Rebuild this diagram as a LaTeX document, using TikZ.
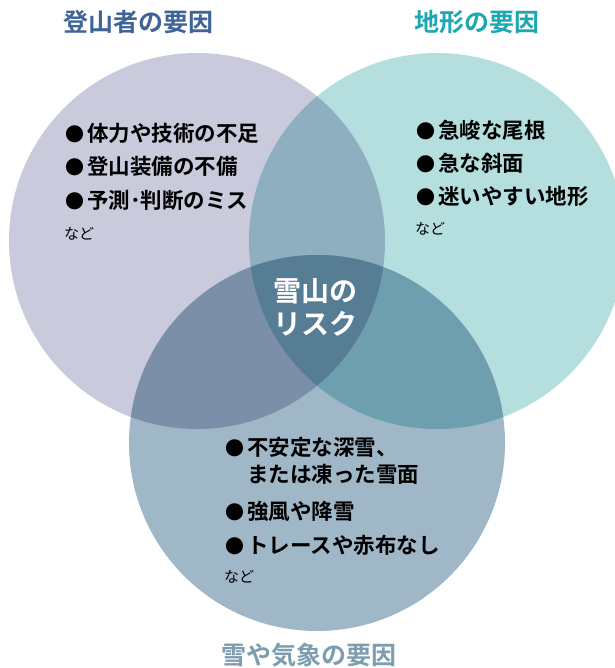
\documentclass[tikz,border=0pt]{standalone}
\usepackage{fontspec}
\setmainfont{Noto Sans CJK JP}[BoldFont={* Bold}]
\definecolor{cL}{HTML}{C9CADB}
\definecolor{cR}{HTML}{B5DEDF}
\definecolor{cB}{HTML}{A0B7C7}
\definecolor{cLR}{HTML}{8EAFBF}
\definecolor{cLB}{HTML}{7C8FA8}
\definecolor{cRB}{HTML}{6E9FAE}
\definecolor{cLRB}{HTML}{577D95}
\definecolor{tL}{HTML}{3F6596}
\definecolor{tR}{HTML}{1BA8B0}
\definecolor{tB}{HTML}{7D9DB0}
\newcommand{\bul}{{\fontsize{19}{21}\selectfont ●}\hspace{3pt}}
\tikzset{
  title/.style={font=\fontsize{25}{29}\selectfont\bfseries, inner sep=0pt},
  item/.style={font=\fontsize{21.5}{25}\selectfont\bfseries, inner sep=0pt, anchor=west, text=black},
  etc/.style={font=\fontsize{15}{18}\selectfont, inner sep=0pt, anchor=west, text=black},
  center/.style={font=\fontsize{28}{33}\selectfont\bfseries, inner sep=0pt, text=white, align=center}
}
\begin{document}
\begin{tikzpicture}[x=1pt,y=-1pt]
\useasboundingbox (0,0) rectangle (614,668);
\def\cirL{(197,241) circle[radius=188pt]}
\def\cirR{(437,241) circle[radius=188pt]}
\def\cirB{(317,443) circle[radius=188pt]}
\fill[cL] \cirL;
\fill[cR] \cirR;
\fill[cB] \cirB;
\begin{scope}\clip \cirL; \fill[cLR] \cirR; \end{scope}
\begin{scope}\clip \cirL; \fill[cLB] \cirB; \end{scope}
\begin{scope}\clip \cirR; \fill[cRB] \cirB; \end{scope}
\begin{scope}\clip \cirL; \clip \cirR; \fill[cLRB] \cirB; \end{scope}

\node[title, text=tL] (tl) at (138,22) {登山者の要因};
\node[title, text=tR] (tr) at (477,22) {地形の要因};
\node[title, text=tB] (tb) at (309,655) {雪や気象の要因};

\node[center] (ctr) at (315,307) {雪山の\\リスク};

\node[item] (l1) at (65,133) {\bul 体力や技術の不足};
\node[item] (l2) at (65,166) {\bul 登山装備の不備};
\node[item] (l3) at (65,200) {\bul 予測･判断のミス};
\node[etc] (l4) at (64,234) {など};

\node[item] (r1) at (416,130) {\bul 急峻な尾根};
\node[item] (r2) at (416,163) {\bul 急な斜面};
\node[item] (r3) at (416,196) {\bul 迷いやすい地形};
\node[etc] (r4) at (415,229) {など};

\node[item] (b1) at (225,447) {\bul 不安定な深雪、};
\node[item] (b1b) at (247,474) {または凍った雪面};
\node[item] (b2) at (225,511) {\bul 強風や降雪};
\node[item] (b3) at (225,545) {\bul トレースや赤布なし};
\node[etc] (b4) at (224,577) {など};
\end{tikzpicture}
\end{document}
